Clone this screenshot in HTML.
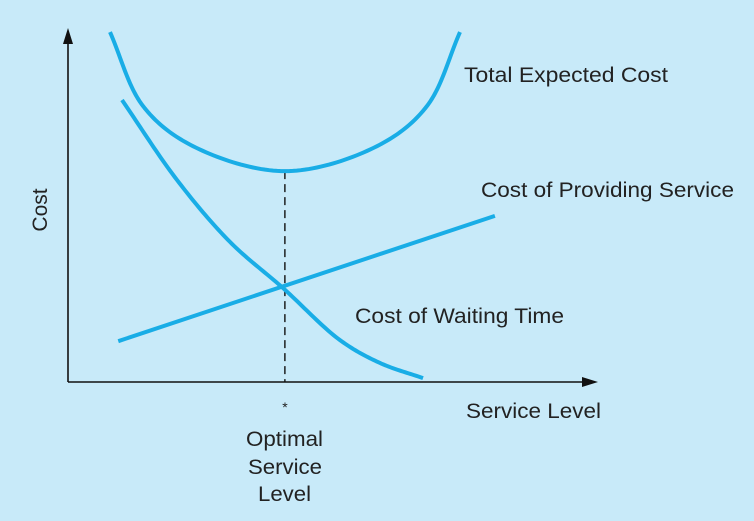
<!DOCTYPE html>
<html><head><meta charset="utf-8"><style>
html,body{margin:0;padding:0;background:#c8eaf9;}
svg{display:block;font-family:"Liberation Sans",sans-serif;}
</style></head><body>
<svg id="chart" width="754" height="521" viewBox="0 0 754 521">
<rect width="754" height="521" fill="#c8eaf9"/>
<g id="marks"></g>
<g id="axes">
 <line x1="68" y1="382" x2="68" y2="40" stroke="#111" stroke-width="1.6"/>
 <polygon points="68,28 63,44 73,44" fill="#111"/>
 <line x1="68" y1="382" x2="585" y2="382" stroke="#111" stroke-width="1.6"/>
 <polygon points="598,382 582,377 582,387" fill="#111"/>
</g>
<g font-size="21" fill="#222">
 <text x="464" y="82" textLength="204" lengthAdjust="spacingAndGlyphs">Total Expected Cost</text>
 <text x="481" y="197" textLength="253" lengthAdjust="spacingAndGlyphs">Cost of Providing Service</text>
 <text x="355" y="323" textLength="209" lengthAdjust="spacingAndGlyphs">Cost of Waiting Time</text>
 <text x="466" y="418" textLength="135" lengthAdjust="spacingAndGlyphs">Service Level</text>
 <text x="285" y="412" text-anchor="middle" font-size="14">*</text>
 <text x="246" y="446" textLength="77" lengthAdjust="spacingAndGlyphs">Optimal</text>
 <text x="248" y="474" textLength="74" lengthAdjust="spacingAndGlyphs">Service</text>
 <text x="258" y="501" textLength="53" lengthAdjust="spacingAndGlyphs">Level</text>
 <text transform="translate(47,210) rotate(-90)" text-anchor="middle">Cost</text>
</g>
</svg>
<script>
const totalX=[7.94,14.18,23.63,41.02,58.41,67.86,74.10];
const totalY=[99.4,78.4,67.0,59.9,67.0,78.4,99.4];
const waitX=[10.21,20.60,30.62,40.64,51.42,58.98,67.11];
const waitY=[80.1,57.4,39.8,26.7,11.9,5.4,1.1];
const provX=[9.5,80.7];
const provY=[11.6,47.2];
const optimalX=[41.0];
const optimalY=[59.9];
function sx(v){return 68+v*5.29;}
function sy(v){return 382-v*3.52;}
function smooth(xs,ys){
 const p=xs.map((x,i)=>[sx(x),sy(ys[i])]);
 const n=p.length;
 const ext=[[2*p[0][0]-p[1][0],2*p[0][1]-p[1][1]],...p,[2*p[n-1][0]-p[n-2][0],2*p[n-1][1]-p[n-2][1]]];
 let d="M"+p[0][0].toFixed(2)+","+p[0][1].toFixed(2);
 const dist=(a,b)=>Math.pow(Math.hypot(b[0]-a[0],b[1]-a[1]),0.5)||1e-4;
 for(let i=1;i<ext.length-2;i++){
  const P0=ext[i-1],P1=ext[i],P2=ext[i+1],P3=ext[i+2];
  const t0=0,t1=t0+dist(P0,P1),t2=t1+dist(P1,P2),t3=t2+dist(P2,P3);
  for(let s=1;s<=24;s++){
   const t=t1+(t2-t1)*s/24;
   const L=(A,B,ta,tb)=>[0,1].map(k=>((tb-t)*A[k]+(t-ta)*B[k])/(tb-ta));
   const A1=L(P0,P1,t0,t1),A2=L(P1,P2,t1,t2),A3=L(P2,P3,t2,t3);
   const B1=L(A1,A2,t0,t2),B2=L(A2,A3,t1,t3);
   const C=L(B1,B2,t1,t2);
   d+=" L"+C[0].toFixed(2)+","+C[1].toFixed(2);
  }
 }
 return d;
}
const g=document.getElementById('marks');
const NS="http://www.w3.org/2000/svg";
function path(d,name){
 const el=document.createElementNS(NS,'path');
 el.setAttribute('d',d);el.setAttribute('fill','none');
 el.setAttribute('stroke','#19ade6');el.setAttribute('stroke-width','4');
 el.setAttribute('stroke-linejoin','round');
 
 
 g.appendChild(el);
}
const dl=document.createElementNS(NS,'line');
dl.setAttribute('x1',sx(optimalX[0]));dl.setAttribute('x2',sx(optimalX[0]));
dl.setAttribute('y1',sy(optimalY[0]));dl.setAttribute('y2',382);
dl.setAttribute('stroke','#111');dl.setAttribute('stroke-width','1.4');dl.setAttribute('stroke-dasharray','8,5');


g.appendChild(dl);
path(smooth(totalX,totalY),'total-expected-cost-curve');
path(smooth(waitX,waitY),'waiting-cost-curve');
path("M"+sx(provX[0])+","+sy(provY[0])+" L"+sx(provX[1])+","+sy(provY[1]),'providing-cost-line');
</script>
</body></html>
